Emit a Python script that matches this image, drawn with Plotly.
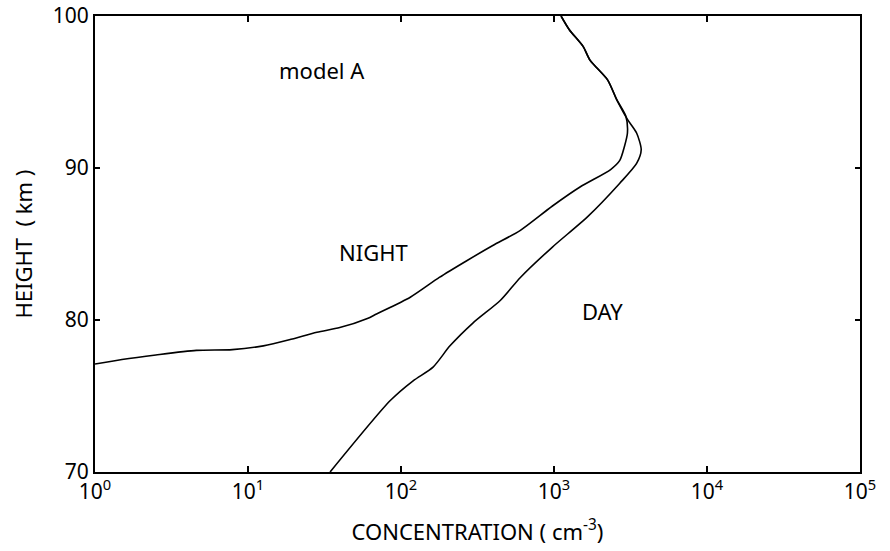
import plotly.graph_objects as go

# NIGHT profile: concentration (cm^-3) vs height (km)
night_conc = [1.0, 1.5, 2.5, 4.6, 7.9, 12.6, 18.6, 28.2, 39.8, 60.3, 69.2, 115, 178, 269, 398, 603, 977, 1479, 2344, 2692, 2884, 3020, 2950,
              2570, 2239, 1718, 1549, 1259, 1112]
night_h = [77.1, 77.4, 77.7, 78.0, 78.05, 78.3, 78.7, 79.2, 79.5, 80.1, 80.4, 81.5, 82.8, 83.9, 84.9, 85.9, 87.5, 88.75, 89.9, 90.5, 91.4, 92.3, 93.4,
           94.5, 95.8, 97.1, 98.0, 99.1, 100.0]

# DAY profile
day_conc = [34.4, 85.1, 120, 162, 209, 295, 447, 603, 977, 1660, 2692, 3467, 3715, 3467, 3020,
            2570, 2239, 1718, 1549, 1259, 1112]
day_h = [70.0, 74.7, 76.0, 76.9, 78.3, 79.8, 81.3, 82.8, 84.8, 86.8, 89.0, 90.3, 91.2, 92.3, 93.2,
         94.5, 95.8, 97.1, 98.0, 99.1, 100.0]

x_tickvals = [1, 10, 100, 1000, 10000, 100000]
x_ticktext = ["10<sup>0</sup>", "10<sup>1</sup>", "10<sup>2</sup>", "10<sup>3</sup>", "10<sup>4</sup>", "10<sup>5</sup>"]
y_tickvals = [70, 80, 90, 100]

FONT = "Noto Sans"

fig = go.Figure()
fig.add_trace(go.Scatter(x=night_conc, y=night_h, mode="lines",
                         line=dict(color="black", width=1.6, shape="spline", smoothing=0.7),
                         name="NIGHT", showlegend=False))
fig.add_trace(go.Scatter(x=day_conc, y=day_h, mode="lines",
                         line=dict(color="black", width=1.6, shape="spline", smoothing=0.7),
                         name="DAY", showlegend=False))

# annotation x on a log axis is given in log10 units
fig.add_annotation(x=1.484, y=96.45, xref="x", yref="y", text="model A", showarrow=False,
                   font=dict(family=FONT, size=22, color="black"))
fig.add_annotation(x=1.817, y=84.47, xref="x", yref="y", text="NIGHT", showarrow=False,
                   font=dict(family=FONT, size=22, color="black"))
fig.add_annotation(x=3.32, y=80.6, xref="x", yref="y", text="DAY", showarrow=False,
                   font=dict(family=FONT, size=22, color="black"))

fig.update_layout(
    width=890, height=551,
    margin=dict(l=95, r=30, t=16, b=79, autoexpand=False),
    paper_bgcolor="white", plot_bgcolor="white",
    font=dict(family=FONT, size=21, color="black"),
)
fig.update_xaxes(type="log", range=[0, 5], tickvals=x_tickvals, ticktext=x_ticktext,
                 ticks="inside", ticklen=6, tickwidth=1.5, tickcolor="black",
                 showline=True, linecolor="black", linewidth=2, mirror="ticks",
                 showgrid=False, zeroline=False, automargin=False,
                 tickfont=dict(family=FONT, size=21),
                 title=dict(text="CONCENTRATION ( cm<sup>-3</sup>)", font=dict(family=FONT, size=22), standoff=20))
fig.update_yaxes(range=[70, 100], tickvals=y_tickvals,
                 ticks="inside", ticklen=5, tickwidth=1.5, tickcolor="black",
                 showline=True, linecolor="black", linewidth=2, mirror="ticks",
                 showgrid=False, zeroline=False, automargin=False,
                 tickfont=dict(family=FONT, size=21),
                 title=dict(text="HEIGHT  ( km )", font=dict(family=FONT, size=22), standoff=14))

fig.write_html("out.html")
